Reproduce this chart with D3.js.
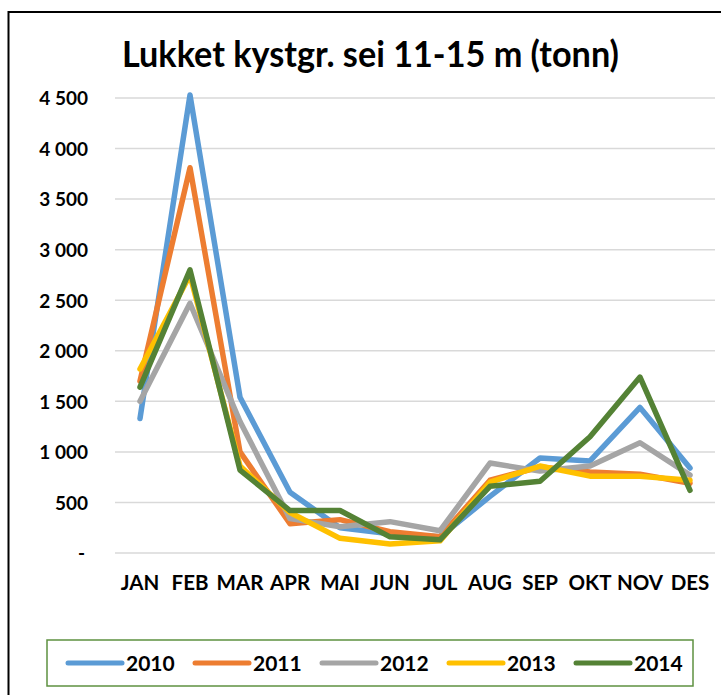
<!DOCTYPE html>
<html>
<head>
<meta charset="utf-8">
<script src="https://cdn.jsdelivr.net/npm/d3@7/dist/d3.min.js"></script>
<style>
  html, body { margin: 0; padding: 0; background: #fff; }
  svg { display: block; }
  .lbl { font-family: Lato, "Open Sans", sans-serif; font-weight: bold; fill: #000; }
</style>
</head>
<body>
<svg id="chart" width="721" height="695"></svg>
<script>
const title = "Lukket kystgr. sei 11-15 m (tonn)";
const months = ["JAN","FEB","MAR","APR","MAI","JUN","JUL","AUG","SEP","OKT","NOV","DES"];
const years = ["2010","2011","2012","2013","2014"];
const v2010 = [1330, 4530, 1540, 600, 250, 190, 160, 560, 940, 910, 1440, 840];
const v2011 = [1700, 3810, 1000, 290, 330, 210, 160, 720, 850, 800, 780, 690];
const v2012 = [1500, 2470, 1300, 340, 260, 310, 220, 890, 810, 860, 1090, 770];
const v2013 = [1820, 2750, 860, 400, 145, 90, 120, 700, 860, 760, 760, 720];
const v2014 = [1640, 2800, 820, 420, 420, 160, 130, 660, 710, 1150, 1740, 620];
const yTicks = [0, 500, 1000, 1500, 2000, 2500, 3000, 3500, 4000, 4500];
const colors = ["#5B9BD5", "#ED7D31", "#A5A5A5", "#FFC000", "#548235"];

const seriesValues = [v2010, v2011, v2012, v2013, v2014];
const series = years.map((y, i) => ({ name: y, values: seriesValues[i], color: colors[i] }));

const svg = d3.select("#chart");

// outer frame
svg.append("rect").attr("x", 8.5).attr("y", 12).attr("width", 900).attr("height", 900)
  .attr("fill", "none").attr("stroke", "#000").attr("stroke-width", 2);

const x = d3.scaleBand().domain(months).range([115, 715]).padding(0);
const y = d3.scaleLinear().domain([0, 4500]).range([553, 98]);
const cx = m => x(m) + x.bandwidth() / 2;

// gridlines
svg.append("g").selectAll("line").data(yTicks).join("line")
  .attr("x1", 115).attr("x2", 715)
  .attr("y1", d => y(d)).attr("y2", d => y(d))
  .attr("stroke", "#D9D9D9").attr("stroke-width", 1.5);

// y axis labels
const fmt = d => d === 0 ? "-" : d3.format(",")(d).replace(/,/g, "\u00A0");
const yAxis = svg.append("g").attr("transform", "translate(96,0)")
  .call(d3.axisLeft(y).tickValues(yTicks).tickFormat(fmt).tickSize(0).tickPadding(8));
yAxis.select(".domain").remove();
yAxis.selectAll("text").attr("class", "lbl").attr("font-size", 19).attr("fill", "#000")
  .attr("dy", "0.36em");
yAxis.selectAll("text").filter(d => d === 0).attr("dx", -3);

// x axis labels
const xAxis = svg.append("g").attr("transform", "translate(0,553)")
  .call(d3.axisBottom(x).tickSize(0).tickPadding(22));
xAxis.select(".domain").remove();
xAxis.selectAll("text").attr("class", "lbl").attr("font-size", 20.5).attr("fill", "#000");

// lines
const line = d3.line().x((d, i) => cx(months[i])).y(d => y(d));
svg.append("g").selectAll("path").data(series).join("path")
  .attr("d", d => line(d.values))
  .attr("fill", "none")
  .attr("stroke", d => d.color)
  .attr("stroke-width", 5.5)
  .attr("stroke-linejoin", "round")
  .attr("stroke-linecap", "round");

// title
svg.append("text").attr("class", "lbl")
  .attr("x", 122).attr("y", 67)
  .attr("font-size", 36)
  .attr("textLength", 497).attr("lengthAdjust", "spacingAndGlyphs")
  .text(title);

// legend
svg.append("rect").attr("x", 47).attr("y", 640).attr("width", 646).attr("height", 46)
  .attr("fill", "#fff").attr("stroke", "#5E9140").attr("stroke-width", 1.5);
const lg = svg.append("g").selectAll("g").data(series).join("g")
  .attr("transform", (d, i) => `translate(${68 + i * 127},663)`);
lg.append("line").attr("x1", 0).attr("x2", 54).attr("y1", 0).attr("y2", 0)
  .attr("stroke", d => d.color).attr("stroke-width", 5).attr("stroke-linecap", "round");
lg.append("text").attr("class", "lbl").attr("x", 58).attr("y", 0).attr("dy", "0.36em")
  .attr("font-size", 21).text(d => d.name);
</script>
</body>
</html>
